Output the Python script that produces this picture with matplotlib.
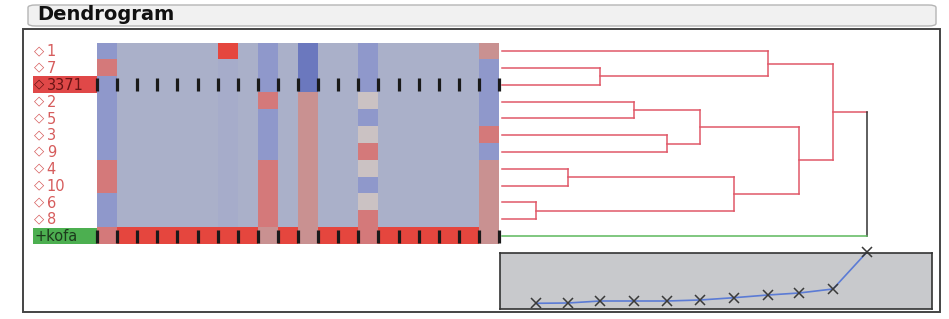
import matplotlib
matplotlib.use("Agg")
import matplotlib.pyplot as plt
import numpy as np
from matplotlib.colors import ListedColormap
from matplotlib.patches import Rectangle, FancyBboxPatch

W, H = 949, 319

row_labels = ["1", "7", "3371", "2", "5", "3", "9", "4", "10", "6", "8", "kofa"]

# one char per column, 20 columns
heat_rows = [
    "bgggggrgbgdggbgggggp",
    "sggggghgbgdggbgggggb",
    "bggggghgbgdggbgggggb",
    "bggggghgsgpggegggggb",
    "bggggghgbgpggbgggggb",
    "bggggghgbgpggegggggs",
    "bggggghgbgpggsgggggb",
    "sggggghgsgpggegggggp",
    "sggggghgsgpggbgggggp",
    "bggggghgsgpggegggggp",
    "bggggghgsgpggsgggggp",
    "srrrrrrrprprrsrrrrrp",
]
palette = {"g": "#aab0c9", "h": "#a6acca", "b": "#8f98cb", "d": "#6b78be",
           "s": "#d4797a", "r": "#e5463e", "p": "#c99191", "e": "#cbc2c3"}

# linkage: (left, right, height), new node ids start at 12
merges = [(9, 10, 34), (7, 8, 66), (1, 2, 98), (3, 4, 132), (5, 6, 165),
          (15, 16, 198), (13, 12, 232), (0, 14, 266), (17, 18, 297),
          (19, 20, 331), (21, 11, 365)]

scree_y = [5.7, 6, 8, 8, 8, 9, 11.3, 14, 16, 20, 57]


def px_axes(fig, x0, y0, x1, y1):
    return fig.add_axes([x0 / W, 1 - y1 / H, (x1 - x0) / W, (y1 - y0) / H])


fig = plt.figure(figsize=(W / 100, H / 100), dpi=100)
fig.patch.set_facecolor("white")

# panel frame and title bar
fig.patches.append(Rectangle((23 / W, 1 - 312 / H), 917 / W, 283 / H,
                             transform=fig.transFigure, fill=False,
                             edgecolor="#444444", lw=1.4))
fig.patches.append(FancyBboxPatch((28 / W, 1 - 26 / H), 908 / W, 21 / H,
                                  boxstyle="round,pad=0,rounding_size=0.008",
                                  transform=fig.transFigure,
                                  facecolor="#f1f1f1", edgecolor="#b5b5b5", lw=1))
fig.text(37 / W, 1 - 15 / H, "Dendrogram", fontsize=14, fontweight="bold",
         va="center", ha="left", color="#111111")

# heatmap
n_rows, n_cols = len(heat_rows), len(heat_rows[0])
keys = list(palette.keys())
cmap = ListedColormap([palette[k] for k in keys])
mat = np.array([[keys.index(c) for c in r] for r in heat_rows])

ax = px_axes(fig, 97, 42.7, 499, 244.3)
ax.imshow(mat, cmap=cmap, vmin=-0.5, vmax=len(keys) - 0.5, aspect="auto",
          interpolation="nearest", extent=(0, n_cols, n_rows, 0))
ax.set_xlim(0, n_cols)
ax.set_ylim(n_rows, 0)
ax.axis("off")

for r in (2, 11):
    ax.vlines(np.arange(n_cols + 1), r + 0.12, r + 0.9, colors="#1a1a1a",
              lw=2.3, clip_on=False)

label_x = -3.18
for i, lab in enumerate(row_labels):
    y = i + 0.55
    if lab == "kofa":
        ax.add_patch(Rectangle((label_x, i), -label_x, 1, facecolor="#4caf50",
                               edgecolor="none", clip_on=False))
        ax.text(label_x + 0.05, y, "+" + lab, fontsize=10.5,
                color="#1d3a1d", va="center", ha="left")
        continue
    col = "#d65c5c"
    if lab == "3371":
        ax.add_patch(Rectangle((label_x, i), -label_x, 1, facecolor="#e04848",
                               edgecolor="none", clip_on=False))
        col = "#6a1414"
    ax.text(label_x + 0.02, y - 0.08, "◇", fontsize=9.5, color=col,
            va="center", ha="left")
    ax.text(label_x + 0.68, y, lab, fontsize=10.5, color=col,
            va="center", ha="left")

# dendrogram
dax = px_axes(fig, 499, 42.7, 900, 244.3)
dax.set_xlim(-3, 398)
dax.set_ylim(n_rows, 0)
dax.axis("off")

pos = {i: (0.0, i + 0.5) for i in range(n_rows)}
red, green = "#e05868", "#5cb85c"
for k, (a, b, h) in enumerate(merges):
    ha_, ya = pos[a]
    hb, yb = pos[b]
    last = k == len(merges) - 1
    dax.plot([ha_, h], [ya, ya], color=red, lw=1.1)
    dax.plot([h, h], [ya, yb], color="#333333" if last else red, lw=1.1)
    dax.plot([hb, h], [yb, yb], color=green if last else red, lw=1.1)
    pos[12 + k] = (h, (ya + yb) / 2)

# scree plot of merge heights
sax = px_axes(fig, 500, 253, 932, 309)
sax.set_facecolor("#c8c9cc")
sax.set_xlim(-2, 430)
sax.set_ylim(0, 56)
heights = sorted(m[2] for m in merges)
sax.plot(heights, scree_y, color="#5b7bd5", lw=1.2, marker="x", ms=7,
         mec="#3a3a3a", mew=1.1, clip_on=False)
sax.set_xticks([])
sax.set_yticks([])
for s in sax.spines.values():
    s.set_color("#333333")
    s.set_linewidth(1.2)

fig.savefig("out.png", dpi=100)
